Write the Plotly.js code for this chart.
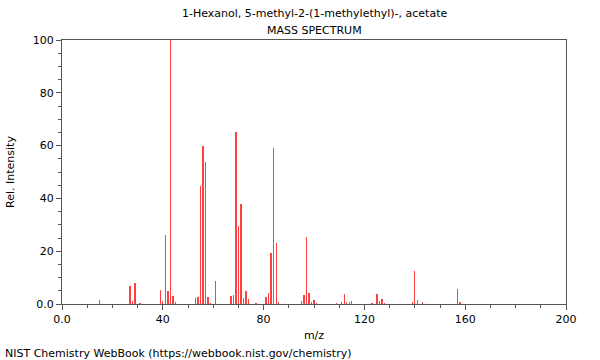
<!DOCTYPE html>
<html>
<head>
<meta charset="utf-8">
<script src="https://cdn.plot.ly/plotly-3.0.1.min.js"></script>
<style>html,body{margin:0;padding:0;background:#fff;}#chart{width:600px;height:360px;}</style>
</head>
<body>
<div id="chart"></div>
<script>
const chartTitle = "1-Hexanol, 5-methyl-2-(1-methylethyl)-, acetate";
const chartSubtitle = "MASS SPECTRUM";
const footer = "NIST Chemistry WebBook (https://webbook.nist.gov/chemistry)";
const mz = [15,27,28,29,31,39,40,41,42,43,44,45,53,54,55,56,57,58,59,61,67,68,69,70,71,72,73,74,77,81,82,83,84,85,86,95,96,97,98,99,100,101,109,111,112,113,114,115,123,125,126,127,128,139,140,141,143,157,158];
const intensity = [1.7,6.8,1.2,7.8,0.5,5.3,1.2,26.1,5.1,100,3.1,0.8,2.4,2.6,44.8,59.7,53.8,2.6,0.5,8.8,3,3.5,65.2,29.5,37.8,2.3,4.8,1.9,0.3,2.7,4,19.2,59,23,0.7,1.1,3.4,25.2,4.1,0.8,1.5,0.5,0.3,0.8,3.8,0.8,0.8,1.1,0.3,3.8,1.1,1.8,0.3,0.8,12.5,1.5,0.8,5.6,0.8];
const xTickVals = [0,40,80,120,160,200];
const xTickText = ["0.0","40","80","120","160","200"];
const yTickVals = [0,20,40,60,80,100];
const yTickText = ["0.0","20","40","60","80","100"];

const font = {family: "DejaVu Sans, sans-serif", size: 11, color: "#000"};
const axisCommon = {
  showgrid: false, zeroline: false, showline: true, linecolor: "#555", linewidth: 1,
  mirror: true, ticks: "outside", ticklen: 5, tickcolor: "#555", tickwidth: 1,
  tickfont: {family: "DejaVu Sans, sans-serif", size: 11, color: "#000"}
};
const layout = {
  width: 600, height: 360,
  margin: {l: 62, r: 34, t: 40, b: 56},
  paper_bgcolor: "#fff", plot_bgcolor: "#fff",
  font: font,
  showlegend: false,
  bargap: 0,
  xaxis: Object.assign({}, axisCommon, {
    range: [0, 200], tickmode: "array", tickvals: xTickVals, ticktext: xTickText,
    minor: {dtick: 10, ticks: "outside", ticklen: 3, tickcolor: "#555", showgrid: false},
    title: {text: "m/z", font: font, standoff: 6}
  }),
  yaxis: Object.assign({}, axisCommon, {
    range: [0, 100], tickmode: "array", tickvals: yTickVals, ticktext: yTickText,
    minor: {dtick: 5, ticks: "outside", ticklen: 3, tickcolor: "#555", showgrid: false},
    title: {text: "Rel. Intensity", font: font, standoff: 15}
  }),
  annotations: [
    {text: chartTitle, xref: "paper", yref: "paper", x: 0.5, y: 1, yshift: 27, showarrow: false, font: font, xanchor: "center", yanchor: "middle"},
    {text: chartSubtitle, xref: "paper", yref: "paper", x: 0.5, y: 1, yshift: 10, showarrow: false, font: font, xanchor: "center", yanchor: "middle"},
    {text: footer, xref: "paper", yref: "paper", x: 0, y: 0, xshift: -59, yshift: -49, showarrow: false, font: font, xanchor: "left", yanchor: "middle"}
  ]
};
Plotly.newPlot("chart", [{
  type: "bar", x: mz, y: intensity, width: 0.55,
  marker: {color: "rgba(255,0,0,0.75)", line: {width: 0}},
  hoverinfo: "skip"
}], layout, {staticPlot: true, displayModeBar: false});
</script>
</body>
</html>
